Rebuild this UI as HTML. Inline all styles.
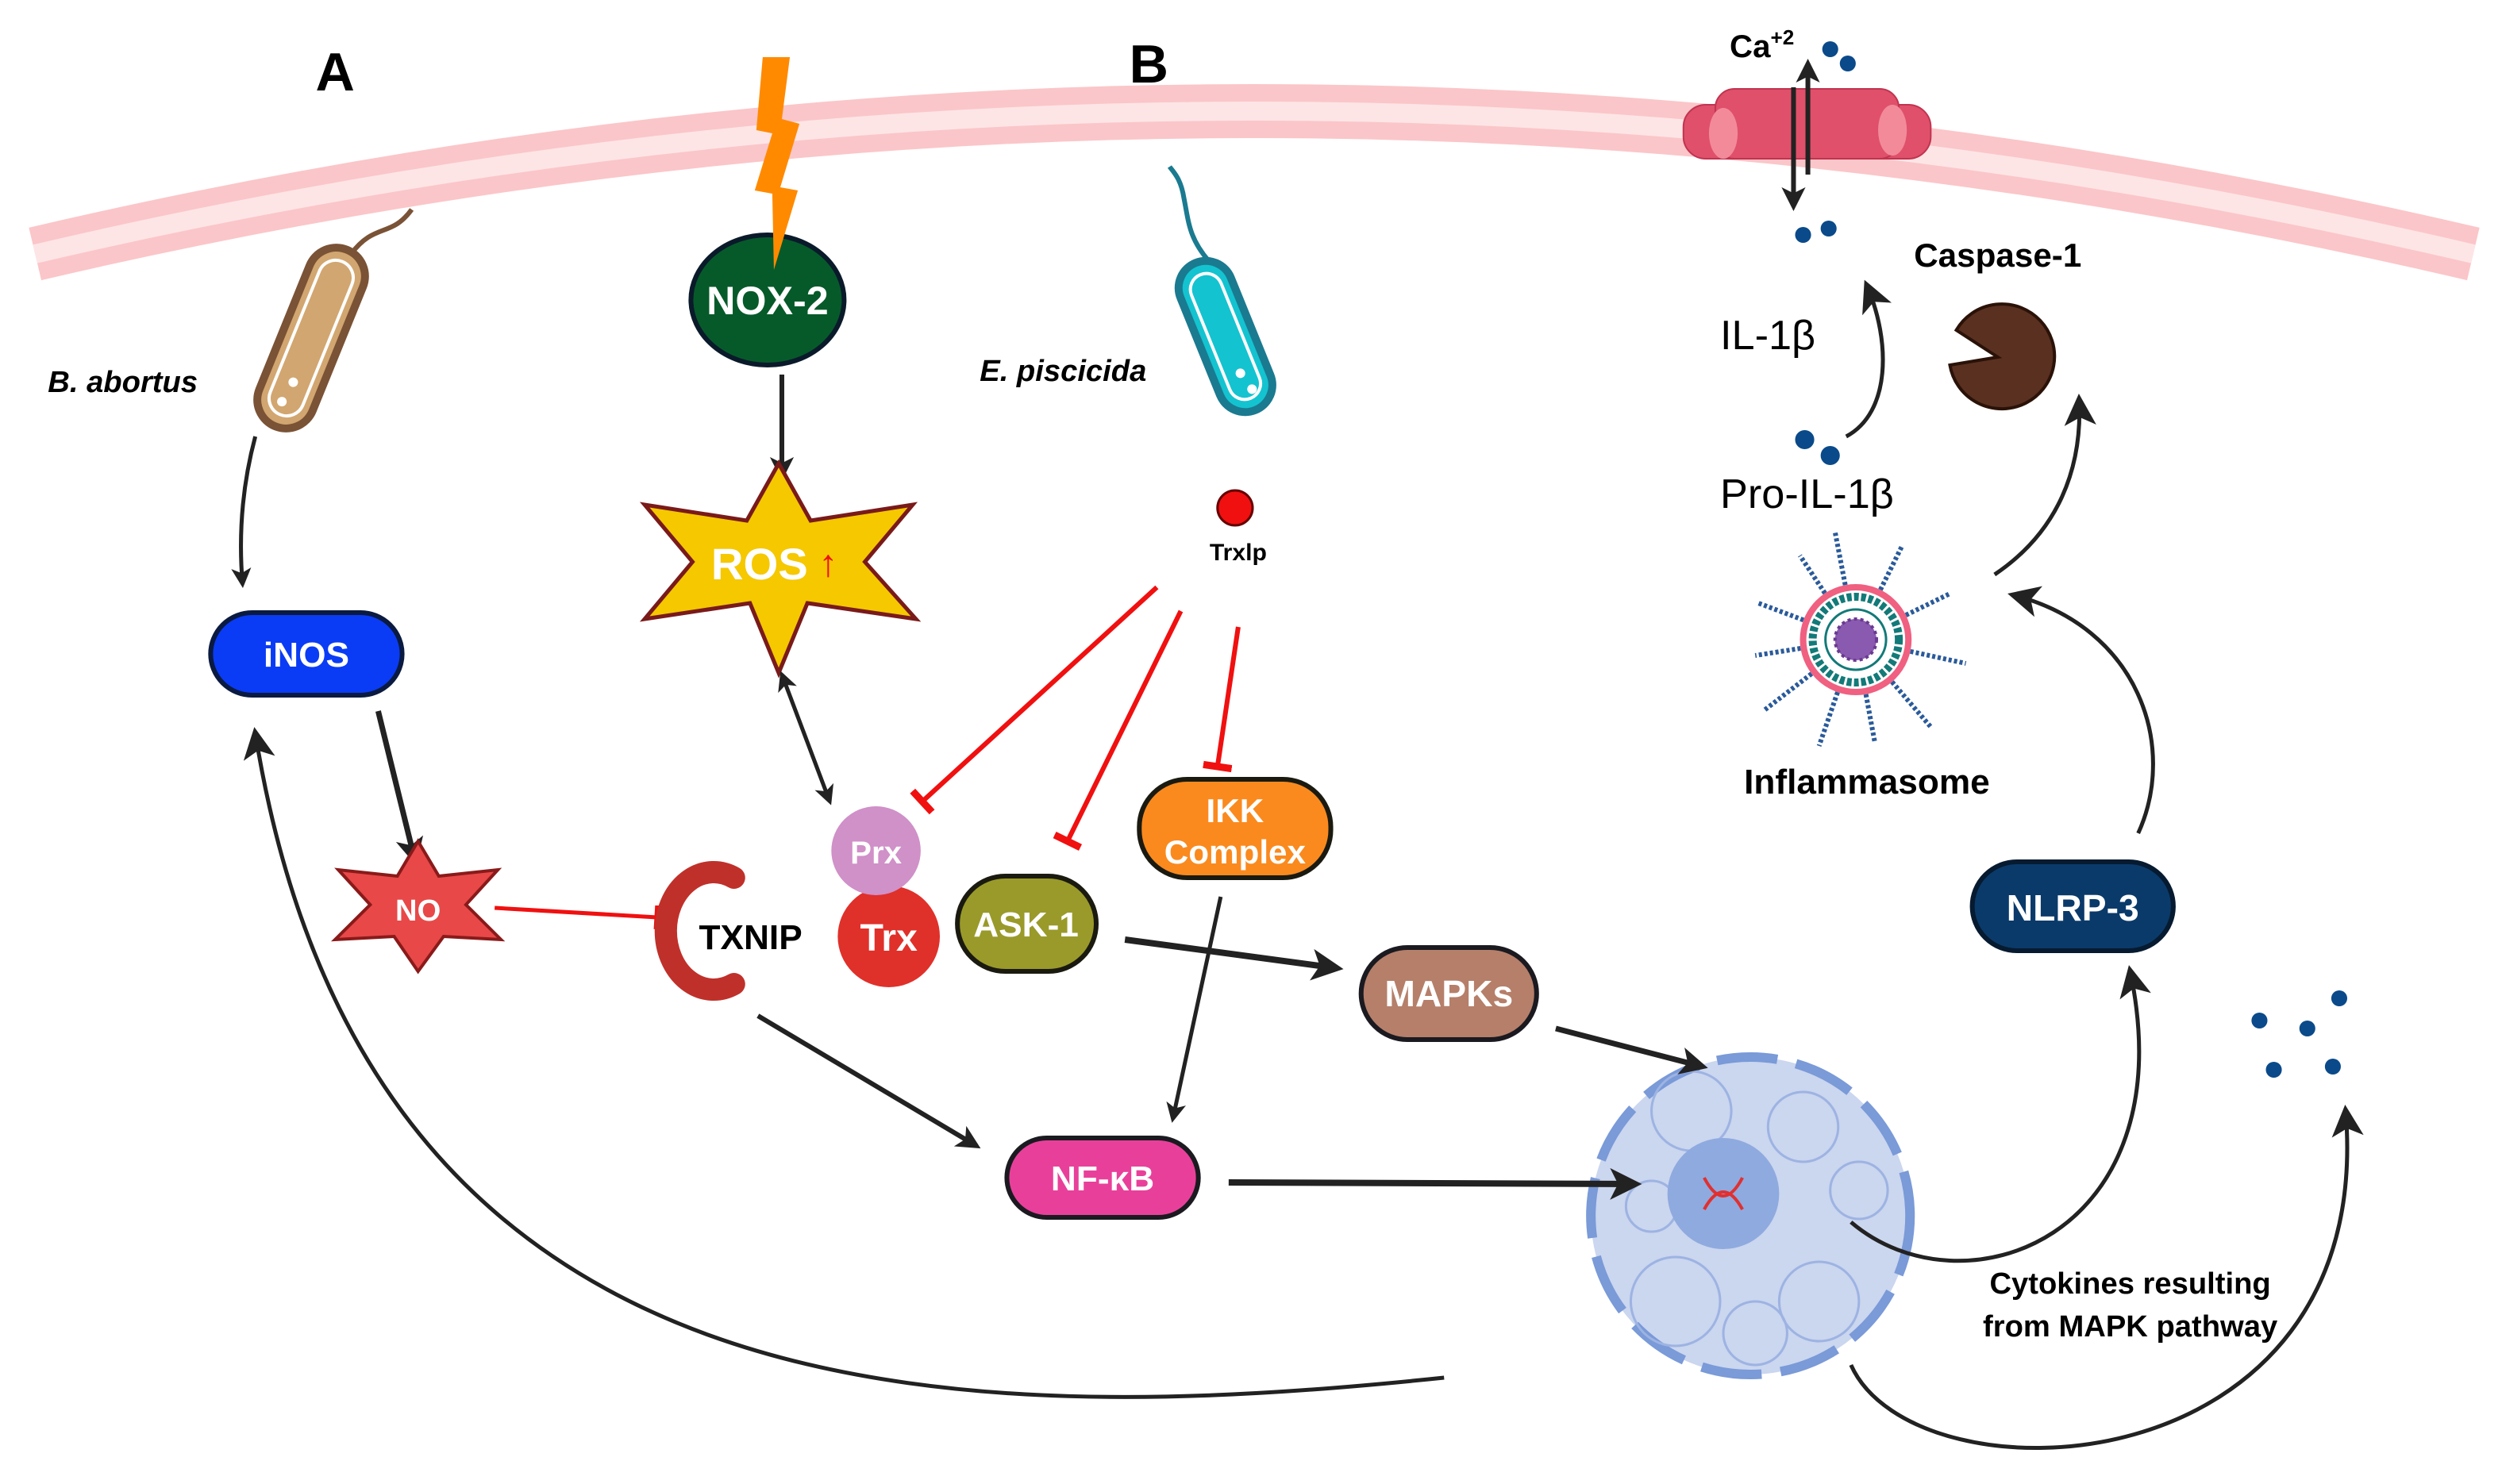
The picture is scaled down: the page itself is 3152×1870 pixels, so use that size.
<!DOCTYPE html>
<html><head><meta charset="utf-8"><style>
html,body{margin:0;padding:0;background:#fff}
svg{display:block}
text{font-family:"Liberation Sans",sans-serif}
</style></head><body>
<svg width="3152" height="1870" viewBox="0 0 1568 935" preserveAspectRatio="none" xmlns="http://www.w3.org/2000/svg">
<defs>
<marker id="ah" viewBox="0 0 10 10" refX="8" refY="5" markerWidth="5" markerHeight="5" orient="auto-start-reverse"><path d="M0,0 L10,5 L0,10 L2.5,5 z" fill="#222"/></marker>
<marker id="ahs" viewBox="0 0 10 10" refX="8" refY="5" markerWidth="8" markerHeight="8" orient="auto-start-reverse"><path d="M0,0 L10,5 L0,10 L2.5,5 z" fill="#222"/></marker>
<marker id="bar" viewBox="0 0 10 10" refX="5" refY="5" markerWidth="6" markerHeight="6" orient="auto"><path d="M5,0 L5,10" stroke="#f01010" stroke-width="2.5"/></marker>
</defs>
<!-- membrane -->
<path d="M22,160 Q785,-20 1550,160" fill="none" stroke="#fbc6c9" stroke-width="34"/>
<path d="M22,160 Q785,-20 1550,160" fill="none" stroke="#fde5e6" stroke-width="12"/>
<text x="210" y="57" font-size="34" font-weight="bold" text-anchor="middle">A</text>
<text x="720" y="52" font-size="34" font-weight="bold" text-anchor="middle">B</text>
<!-- NOX-2 -->
<ellipse cx="481" cy="189" rx="48" ry="41" fill="#065a2a" stroke="#0a1a2a" stroke-width="3"/>
<text x="481" y="198" font-size="25" font-weight="bold" fill="#fff" text-anchor="middle">NOX-2</text>
<path d="M478,36 L495,36 L490,75 L501,78 L489,118 L500,120 L485,170 L484,122 L473,120 L484,84 L474,82 z" fill="#ff8a00"/>
<line x1="490" y1="236" x2="490" y2="300" stroke="#222" stroke-width="3" marker-end="url(#ah)"/>
<!-- ROS -->
<polygon points="488,292 508,328 572,318 542,354 574,390 506,380 488,424 470,380 404,390 434,354 404,318 468,328" fill="#f5c800" stroke="#7a1a1a" stroke-width="2.5"/>
<text x="476" y="365" font-size="28" font-weight="bold" fill="#fff" text-anchor="middle">ROS</text>
<text x="519" y="363" font-size="24" font-weight="bold" fill="#f01010" text-anchor="middle">↑</text>
<!-- B abortus -->
<text x="30" y="247" font-size="19" font-weight="bold" font-style="italic">B. abortus</text>
<g transform="translate(195,213) rotate(22)">
<rect x="-18" y="-60" width="36" height="120" rx="18" fill="#d2a670" stroke="#7a5235" stroke-width="5"/>
<rect x="-11" y="-52" width="22" height="104" rx="11" fill="none" stroke="#fff" stroke-width="2"/>
<circle cx="0" cy="30" r="3" fill="#fff"/><circle cx="-2" cy="44" r="3" fill="#fff"/>
</g>
<path d="M220,160 C235,140 245,150 258,132" fill="none" stroke="#7a5235" stroke-width="3"/>
<path d="M160,275 Q148,320 152,368" fill="none" stroke="#222" stroke-width="2.5" marker-end="url(#ah)"/>
<!-- iNOS -->
<rect x="132" y="386" width="120" height="52" rx="26" fill="#0a3cf5" stroke="#0a1a40" stroke-width="3"/>
<text x="192" y="420" font-size="22" font-weight="bold" fill="#fff" text-anchor="middle">iNOS</text>
<line x1="237" y1="448" x2="260" y2="542" stroke="#222" stroke-width="3.5" marker-end="url(#ah)"/>
<!-- NO -->
<polygon points="262,530 275,552 312,548 292,570 314,592 278,590 262,612 247,590 210,592 232,570 212,548 249,552" fill="#e84848" stroke="#8a1a1a" stroke-width="2"/>
<text x="262" y="580" font-size="19" font-weight="bold" fill="#fff" text-anchor="middle">NO</text>
<line x1="310" y1="572" x2="412" y2="578" stroke="#f01010" stroke-width="2.5" marker-end="url(#bar)"/>
<!-- TXNIP -->
<path d="M460,553 A30,37 0 1 0 460,620" fill="none" stroke="#c0302a" stroke-width="14" stroke-linecap="round"/>
<text x="438" y="598" font-size="22" font-weight="bold">TXNIP</text>
<circle cx="557" cy="590" r="32" fill="#e0302a"/>
<text x="557" y="599" font-size="24" font-weight="bold" fill="#fff" text-anchor="middle">Trx</text>
<circle cx="549" cy="536" r="28" fill="#d090c8"/>
<text x="549" y="544" font-size="20" font-weight="bold" fill="#fff" text-anchor="middle">Prx</text>
<line x1="490" y1="425" x2="520" y2="505" stroke="#222" stroke-width="2.5" marker-start="url(#ah)" marker-end="url(#ah)"/>
<!-- ASK-1 -->
<rect x="600" y="552" width="87" height="60" rx="30" fill="#9a9a2a" stroke="#1a1a10" stroke-width="3"/>
<text x="643" y="590" font-size="22" font-weight="bold" fill="#fff" text-anchor="middle">ASK-1</text>
<!-- IKK -->
<rect x="714" y="491" width="120" height="62" rx="30" fill="#fa8a1e" stroke="#1a1a10" stroke-width="3"/>
<text x="774" y="518" font-size="21" font-weight="bold" fill="#fff" text-anchor="middle">IKK</text>
<text x="774" y="544" font-size="21" font-weight="bold" fill="#fff" text-anchor="middle">Complex</text>
<!-- MAPKs -->
<rect x="853" y="597" width="110" height="58" rx="29" fill="#b57f6a" stroke="#1a1a20" stroke-width="3"/>
<text x="908" y="634" font-size="23" font-weight="bold" fill="#fff" text-anchor="middle">MAPKs</text>
<!-- NF-kB -->
<rect x="631" y="717" width="120" height="50" rx="25" fill="#e8409a" stroke="#1a1a20" stroke-width="3"/>
<text x="691" y="750" font-size="22" font-weight="bold" fill="#fff" text-anchor="middle">NF-κB</text>
<!-- E piscicida -->
<text x="614" y="240" font-size="19" font-weight="bold" font-style="italic">E. piscicida</text>
<g transform="translate(768,212) rotate(-22)">
<rect x="-17" y="-50" width="34" height="100" rx="17" fill="#14c3d0" stroke="#1a7a90" stroke-width="5"/>
<rect x="-10" y="-42" width="20" height="84" rx="10" fill="none" stroke="#fff" stroke-width="2"/>
<circle cx="0" cy="25" r="3" fill="#fff"/><circle cx="3" cy="37" r="3" fill="#fff"/>
</g>
<path d="M758,165 C745,150 745,140 742,125 C740,112 735,108 733,105" fill="none" stroke="#1a7a90" stroke-width="3"/>
<circle cx="774" cy="320" r="11" fill="#f01010" stroke="#600" stroke-width="1.5"/>
<text x="776" y="353" font-size="15" font-weight="bold" text-anchor="middle">Trxlp</text>
<line x1="725" y1="370" x2="578" y2="505" stroke="#f01010" stroke-width="3" marker-end="url(#bar)"/>
<line x1="740" y1="385" x2="669" y2="530" stroke="#f01010" stroke-width="3" marker-end="url(#bar)"/>
<line x1="776" y1="395" x2="763" y2="483" stroke="#f01010" stroke-width="3" marker-end="url(#bar)"/>
<!-- arrows -->
<line x1="705" y1="592" x2="838" y2="610" stroke="#222" stroke-width="4" marker-end="url(#ah)"/>
<line x1="475" y1="640" x2="612" y2="722" stroke="#222" stroke-width="3" marker-end="url(#ah)"/>
<line x1="765" y1="565" x2="735" y2="705" stroke="#222" stroke-width="2.5" marker-end="url(#ah)"/>
<!-- nucleus -->
<circle cx="1097" cy="766" r="100" fill="#cbd6ef" stroke="#7a9ad8" stroke-width="6" stroke-dasharray="38,12"/>
<g fill="none" stroke="#9db3e2" stroke-width="1.5">
<circle cx="1060" cy="700" r="25"/><circle cx="1130" cy="710" r="22"/><circle cx="1050" cy="820" r="28"/><circle cx="1140" cy="820" r="25"/><circle cx="1165" cy="750" r="18"/><circle cx="1035" cy="760" r="16"/><circle cx="1100" cy="840" r="20"/>
</g>
<circle cx="1080" cy="752" r="35" fill="#8faadf"/>
<path d="M1068,742 Q1080,765 1092,742 M1068,762 Q1080,740 1092,762" fill="none" stroke="#e03030" stroke-width="2"/>
<line x1="770" y1="745" x2="1025" y2="746" stroke="#222" stroke-width="4" marker-end="url(#ah)"/>
<line x1="975" y1="648" x2="1067" y2="672" stroke="#222" stroke-width="3.5" marker-end="url(#ah)"/>
<!-- long curves -->
<path d="M905,868 C600,900 230,900 160,462" fill="none" stroke="#222" stroke-width="2.5" marker-end="url(#ahs)"/>
<path d="M1160,770 C1230,830 1370,780 1335,612" fill="none" stroke="#222" stroke-width="2.5" marker-end="url(#ahs)"/>
<path d="M1160,860 C1200,950 1490,940 1470,700" fill="none" stroke="#222" stroke-width="2.5" marker-end="url(#ahs)"/>
<!-- NLRP-3 -->
<rect x="1236" y="543" width="126" height="56" rx="28" fill="#0a3a6a" stroke="#061a30" stroke-width="3"/>
<text x="1299" y="580" font-size="23" font-weight="bold" fill="#fff" text-anchor="middle">NLRP-3</text>
<path d="M1340,525 C1365,470 1340,395 1262,375" fill="none" stroke="#222" stroke-width="2.5" marker-end="url(#ahs)"/>
<!-- inflammasome -->
<g stroke="#2a5a9a" stroke-width="3" stroke-dasharray="2,1.5">
<line x1="1163" y1="403" x2="1150" y2="335"/><line x1="1163" y1="403" x2="1192" y2="344"/><line x1="1163" y1="403" x2="1222" y2="374"/><line x1="1163" y1="403" x2="1232" y2="418"/><line x1="1163" y1="403" x2="1210" y2="458"/><line x1="1163" y1="403" x2="1175" y2="468"/><line x1="1163" y1="403" x2="1140" y2="470"/><line x1="1163" y1="403" x2="1105" y2="448"/><line x1="1163" y1="403" x2="1100" y2="413"/><line x1="1163" y1="403" x2="1102" y2="380"/><line x1="1163" y1="403" x2="1128" y2="350"/>
</g>
<circle cx="1163" cy="403" r="33" fill="#fff" stroke="#f06080" stroke-width="4"/>
<circle cx="1163" cy="403" r="27" fill="#fff" stroke="#127a78" stroke-width="5" stroke-dasharray="3,1.5"/>
<circle cx="1163" cy="403" r="19" fill="#fff" stroke="#127a78" stroke-width="1.5"/>
<circle cx="1163" cy="403" r="13" fill="#8a5ab0" stroke="#6a3a90" stroke-width="2" stroke-dasharray="2,2"/>
<text x="1170" y="500" font-size="22" font-weight="bold" text-anchor="middle">Inflammasome</text>
<path d="M1250,362 C1290,335 1305,295 1303,252" fill="none" stroke="#222" stroke-width="2.5" marker-end="url(#ahs)"/>
<!-- caspase -->
<path d="M1252,225 L1222,230 A33,33 0 1 0 1226,208 Z" fill="#5a3020" stroke="#2a1208" stroke-width="2"/>
<text x="1252" y="168" font-size="21" font-weight="bold" text-anchor="middle">Caspase-1</text>
<!-- IL-1b -->
<text x="1078" y="220" font-size="26">IL-1β</text>
<text x="1078" y="320" font-size="26">Pro-IL-1β</text>
<circle cx="1131" cy="277" r="6" fill="#0a4a8a"/><circle cx="1147" cy="287" r="6" fill="#0a4a8a"/>
<path d="M1157,275 C1185,260 1185,215 1170,180" fill="none" stroke="#222" stroke-width="2.5" marker-end="url(#ahs)"/>
<!-- channel -->
<g fill="#e0506a" stroke="#c03450" stroke-width="1">
<rect x="1055" y="66" width="155" height="34" rx="14"/>
<rect x="1075" y="56" width="115" height="44" rx="12"/>
</g>
<g fill="#f28a9a"><ellipse cx="1080" cy="84" rx="9" ry="16"/><ellipse cx="1186" cy="82" rx="9" ry="16"/></g>
<text x="1084" y="36" font-size="20" font-weight="bold">Ca<tspan font-size="13" dy="-8">+2</tspan></text>
<circle cx="1147" cy="31" r="5" fill="#0a4a8a"/><circle cx="1158" cy="40" r="5" fill="#0a4a8a"/>
<line x1="1133" y1="110" x2="1133" y2="40" stroke="#222" stroke-width="3" marker-end="url(#ah)"/>
<line x1="1124" y1="55" x2="1124" y2="130" stroke="#222" stroke-width="3" marker-end="url(#ah)"/>
<circle cx="1130" cy="148" r="5" fill="#0a4a8a"/><circle cx="1146" cy="144" r="5" fill="#0a4a8a"/>
<!-- cytokine dots -->
<g fill="#0a4a8a"><circle cx="1416" cy="643" r="5"/><circle cx="1446" cy="648" r="5"/><circle cx="1466" cy="629" r="5"/><circle cx="1425" cy="674" r="5"/><circle cx="1462" cy="672" r="5"/></g>
<text x="1335" y="815" font-size="19" font-weight="bold" text-anchor="middle">Cytokines resulting</text>
<text x="1335" y="842" font-size="19" font-weight="bold" text-anchor="middle">from MAPK pathway</text>
</svg>
</body></html>
